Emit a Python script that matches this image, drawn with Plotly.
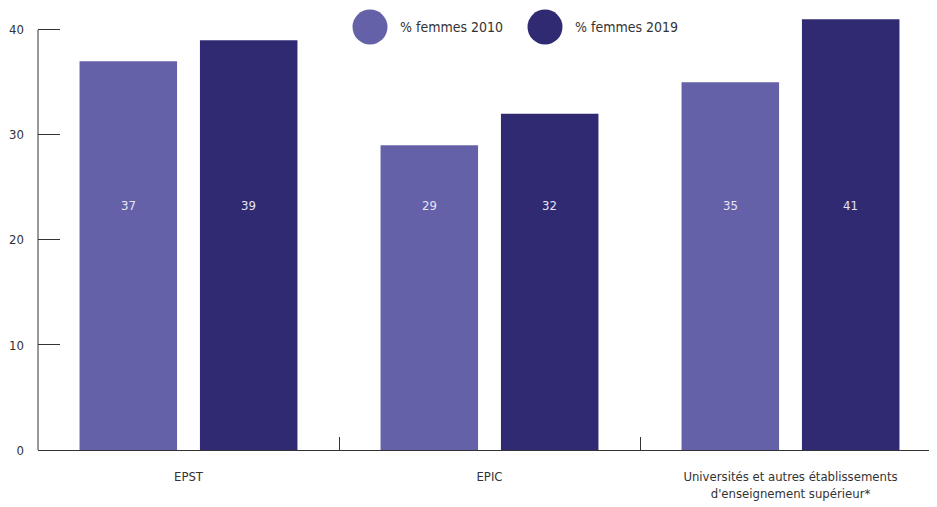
import plotly.graph_objects as go

categories = ["EPST", "EPIC", "Universités et autres établissements<br>d'enseignement supérieur*"]
femmes_2010 = [37, 29, 35]
femmes_2019 = [39, 32, 41]
series_names = ["% femmes 2010", "% femmes 2019"]
y_ticks = [0, 10, 20, 30, 40]

light = "#6561a8"
dark = "#302a72"
txt = "#333333"
fnt = "DejaVu Sans Condensed, Liberation Sans Narrow, sans-serif"

fig = go.Figure()
fig.add_trace(go.Bar(x=categories, y=femmes_2010, name=series_names[0],
                     marker=dict(color=light, line=dict(width=0)), showlegend=False))
fig.add_trace(go.Bar(x=categories, y=femmes_2019, name=series_names[1],
                     marker=dict(color=dark, line=dict(width=0)), showlegend=False))

# value labels sit at a fixed height inside the bars
label_y = 23.3
for i, cat in enumerate(categories):
    for vals, shift in ((femmes_2010, -60), (femmes_2019, 60)):
        fig.add_annotation(x=cat, y=label_y, text=str(vals[i]), showarrow=False,
                           xshift=shift, font=dict(color="#e6e4f4", size=13, family=fnt))

# y axis line only runs up to 40
fig.add_shape(type="line", xref="paper", yref="y", x0=0, x1=0, y0=0, y1=y_ticks[-1],
              line=dict(color=txt, width=1))

# custom legend with big round swatches (positions in page pixels)
pw = 903
for name, col, cx in ((series_names[0], light, 370), (series_names[1], dark, 545)):
    fig.add_shape(type="circle", xref="paper", yref="paper",
                  x0=(cx - 17.5 - 38) / pw, x1=(cx + 17.5 - 38) / pw,
                  y0=(450 - 27 - 17.5) / 436, y1=(450 - 27 + 17.5) / 436,
                  fillcolor=col, line=dict(width=0))
    fig.add_annotation(xref="paper", yref="paper", x=(cx + 28 - 38) / pw,
                       y=(450 - 27) / 436, text=name, showarrow=False,
                       xanchor="left", yanchor="middle",
                       font=dict(size=14, color=txt, family=fnt))

# page body adds 8px, so margins are trimmed to land the plot at 38..941 x 14..450
fig.update_layout(
    width=937, height=507,
    margin=dict(l=30, r=4, t=6, b=65),
    plot_bgcolor="white", paper_bgcolor="white",
    barmode="group", bargap=0.2, bargroupgap=0.19,
    font=dict(family=fnt, size=13, color=txt),
)
fig.update_xaxes(showline=True, linecolor=txt, linewidth=1, automargin=False,
                 ticks="inside", tickson="boundaries", ticklen=13, tickcolor=txt,
                 ticklabelstandoff=14, tickfont=dict(size=13, color=txt))
fig.update_yaxes(range=[0, 41.5], tickvals=y_ticks, showgrid=False, zeroline=False,
                 showline=False, ticks="inside", ticklen=22, tickcolor=txt, automargin=False,
                 ticklabelstandoff=13, tickfont=dict(size=13, color=txt))

fig.write_html("out.html")
